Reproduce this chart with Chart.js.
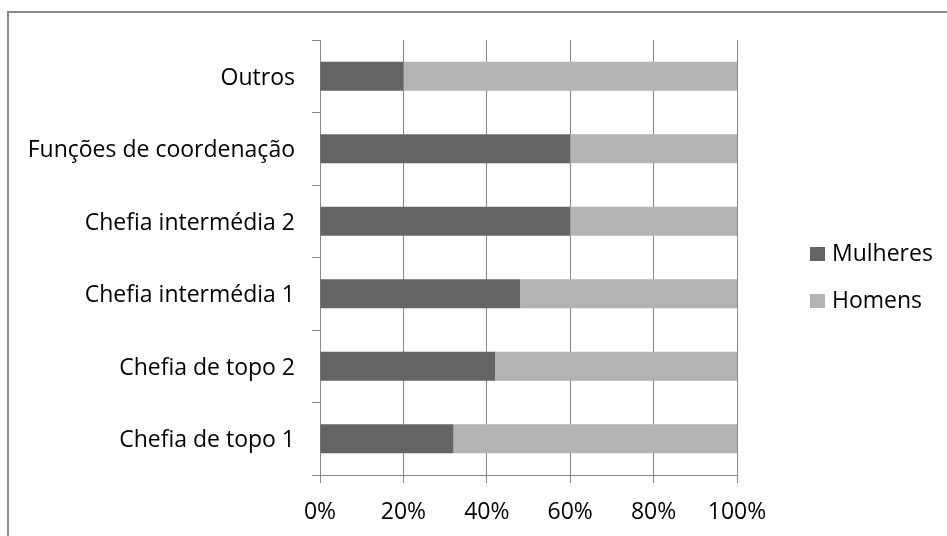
<!DOCTYPE html>
<html>
<head>
<meta charset="utf-8">
<script src="https://cdn.jsdelivr.net/npm/chart.js@4/dist/chart.umd.min.js"></script>
<style>
  html, body { margin: 0; padding: 0; background: #fff; overflow: hidden; }
  #frame { position: absolute; left: 7px; top: 11px; width: 1000px; height: 600px; border-left: 2px solid #8a8a8a; border-top: 2px solid #8a8a8a; }
  #wrap { position: absolute; left: 0; top: 0; width: 947px; height: 536px; }
</style>
</head>
<body>
<div id="frame"></div>
<div id="wrap"><canvas id="c" width="947" height="536"></canvas></div>
<script>
const categories = ['Outros', 'Funções de coordenação', 'Chefia intermédia 2', 'Chefia intermédia 1', 'Chefia de topo 2', 'Chefia de topo 1'];
const mulheres = [20, 60, 60, 48, 42, 32];
const homens = [80, 40, 40, 52, 58, 68];
const xTicks = [0, 20, 40, 60, 80, 100];

const FONT = "'Open Sans', 'Noto Sans', sans-serif";
const FS = 23;

const legendPlugin = {
  id: 'sideLegend',
  afterDraw(chart) {
    const ctx = chart.ctx;
    const items = chart.data.datasets;
    ctx.save();
    ctx.font = FS + 'px ' + FONT;
    ctx.textBaseline = 'alphabetic';
    ctx.textAlign = 'left';
    items.forEach((ds, i) => {
      const cy = 254 + i * 47;
      ctx.fillStyle = ds.backgroundColor;
      ctx.fillRect(810, cy - 7, 15, 14);
      ctx.fillStyle = '#000';
      ctx.fillText(ds.label, 832, cy + 7);
    });
    ctx.restore();
  }
};

new Chart(document.getElementById('c'), {
  type: 'bar',
  data: {
    labels: categories,
    datasets: [
      { label: 'Mulheres', data: mulheres, backgroundColor: '#646464', categoryPercentage: 1, barPercentage: 0.4 },
      { label: 'Homens', data: homens, backgroundColor: '#b3b3b3', categoryPercentage: 1, barPercentage: 0.4 }
    ]
  },
  options: {
    indexAxis: 'y',
    responsive: false,
    animation: false,
    layout: { padding: { left: 0, top: 40, right: 210, bottom: 0 } },
    plugins: { legend: { display: false }, tooltip: { enabled: false } },
    scales: {
      x: {
        type: 'linear',
        stacked: true,
        min: 0, max: 100,
        afterBuildTicks(scale) { scale.ticks = xTicks.map(v => ({ value: v })); },
        afterFit(scale) { scale.height = 61; },
        ticks: { color: '#000', font: { family: FONT, size: FS }, padding: 16, callback: v => v + '%' },
        grid: { color: '#888888', lineWidth: 1, tickLength: 8, drawTicks: true },
        border: { color: '#888888', width: 1 }
      },
      y: {
        stacked: true,
        afterFit(scale) { scale.width = 320; },
        ticks: { color: '#000', font: { family: FONT, size: FS }, padding: 17, labelOffset: 2 },
        grid: { offset: true, drawOnChartArea: false, drawTicks: true, tickLength: 8, color: '#888888' },
        border: { color: '#888888', width: 1 }
      }
    }
  },
  plugins: [legendPlugin]
});
</script>
</body>
</html>
